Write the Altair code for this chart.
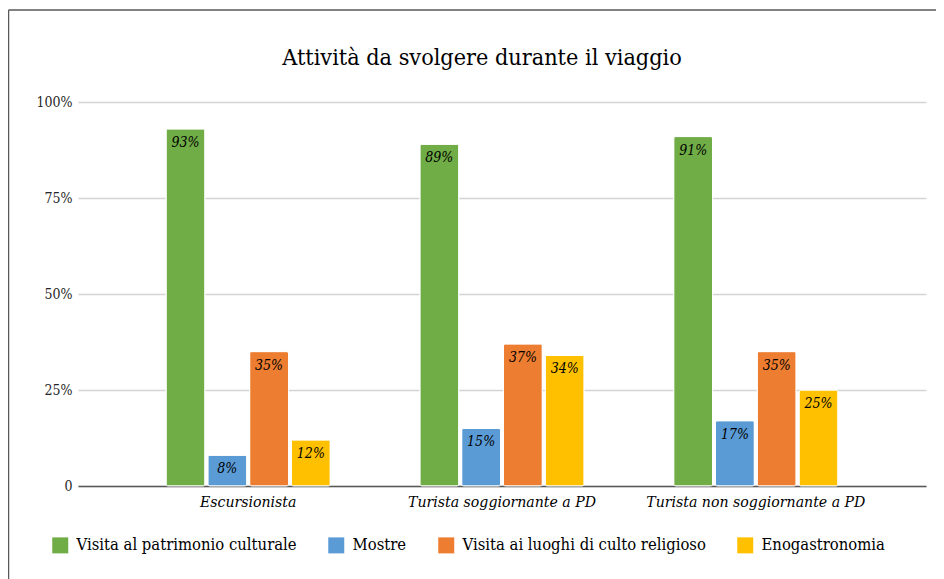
import altair as alt
import pandas as pd

categories = ["Escursionista", "Turista soggiornante a PD", "Turista non soggiornante a PD"]
series = ["Visita al patrimonio culturale", "Mostre", "Visita ai luoghi di culto religioso", "Enogastronomia"]
colors = ["#70AD47", "#5B9BD5", "#ED7D31", "#FFC000"]
values = {
    "Visita al patrimonio culturale": [0.93, 0.89, 0.91],
    "Mostre": [0.08, 0.15, 0.17],
    "Visita ai luoghi di culto religioso": [0.35, 0.37, 0.35],
    "Enogastronomia": [0.12, 0.34, 0.25],
}
title_text = "Attività da svolgere durante il viaggio"

rows = []
for si, s in enumerate(series):
    for ci, c in enumerate(categories):
        rows.append({"cat": c, "serie": s, "ord": si, "val": values[s][ci]})
df = pd.DataFrame(rows)

FONT = "DejaVu Serif Condensed, DejaVu Serif"
W, H = 848, 384

x = alt.X("cat:N", sort=categories, title=None,
          scale=alt.Scale(paddingInner=0.353, paddingOuter=0.347),
          axis=alt.Axis(labelAngle=0, labelFont=FONT, labelFontStyle="italic",
                        labelFontSize=15.7, labelColor="#000000", labelPadding=8,
                        labelLimit=400,
                        ticks=False, domainColor="#595959", domainWidth=1.5))
xo = alt.XOffset("serie:N", sort=series,
                 scale=alt.Scale(paddingInner=0.07, paddingOuter=0))
y = alt.Y("val:Q", title=None,
          scale=alt.Scale(domain=[0, 1], nice=False),
          axis=alt.Axis(values=[0, 0.25, 0.5, 0.75, 1.0],
                        labelExpr="datum.value == 0 ? '0' : format(datum.value, '.0%')",
                        labelFont=FONT, labelFontSize=14, labelColor="#262626",
                        labelPadding=6, ticks=False, domain=False,
                        gridColor="#d4d4d4", gridWidth=1.5))

bars = alt.Chart(df).mark_bar(stroke="white", strokeWidth=1, cornerRadius=2).encode(
    x=x, xOffset=xo, y=y,
    color=alt.Color("serie:N", sort=series,
                    scale=alt.Scale(domain=series, range=colors),
                    legend=alt.Legend(title=None, orient="none", direction="horizontal",
                                      legendX=-26, legendY=435,
                                      symbolType="square", symbolSize=256,
                                      symbolStrokeWidth=0, symbolOpacity=1,
                                      labelFont=FONT, labelFontSize=16.5, labelColor="#000000",
                                      labelOffset=8, columnPadding=31, labelLimit=400)),
)

labels = alt.Chart(df).mark_text(baseline="top", dy=7, font=FONT, fontStyle="italic",
                                 fontSize=14, color="#000000").encode(
    x=alt.X("cat:N", sort=categories), xOffset=alt.XOffset("serie:N", sort=series),
    y=alt.Y("val:Q"), text=alt.Text("val:Q", format=".0%"),
)

one = pd.DataFrame({"t": [title_text]})
top_line = alt.Chart(one).mark_rule(stroke="#595959", strokeWidth=1.5).encode(
    x=alt.value(-69.5), x2=alt.value(W + 10), y=alt.value(-92))
left_line = alt.Chart(one).mark_rule(stroke="#595959", strokeWidth=1.5).encode(
    x=alt.value(-69.5), y=alt.value(-92), y2=alt.value(H + 93))
title = alt.Chart(one).mark_text(font=FONT, fontSize=23.2, color="#000000",
                                 baseline="alphabetic", align="center").encode(
    x=alt.value(W / 2 - 20), y=alt.value(-37), text="t:N")

chart = alt.layer(top_line, left_line, title, bars, labels).properties(
    width=W, height=H,
    autosize=alt.AutoSizeParams(type="none"),
    padding={"left": 70, "top": 94, "right": 10, "bottom": 93},
).configure_view(stroke=None)

chart.save("out.html", embed_options={"renderer": "svg", "actions": False})
